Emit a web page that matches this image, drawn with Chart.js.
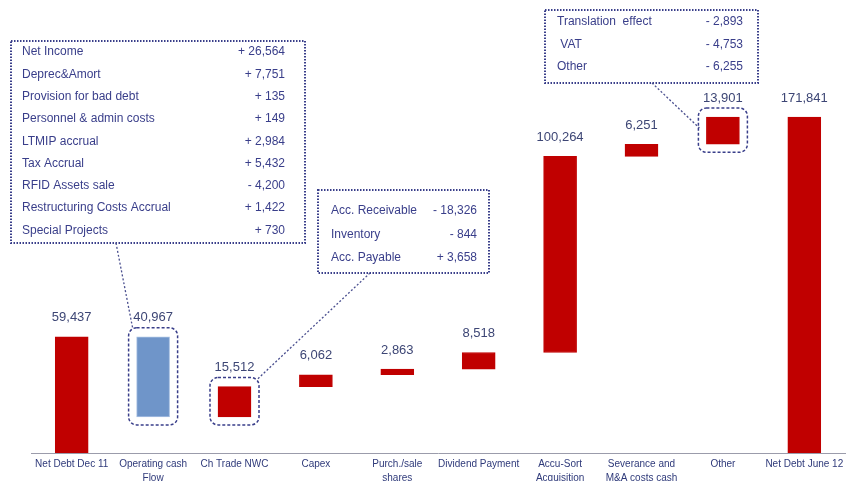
<!DOCTYPE html>
<html lang="en">
  <head>
    <meta charset="UTF-8" />
    <title>Net debt bridge Dec 11 - June 12</title>
    <script src="https://cdn.jsdelivr.net/npm/chart.js@4/dist/chart.umd.min.js"></script>
    <style>
      body { margin: 0; background: #fff; overflow: hidden; }
      #wrap { width: 855px; height: 481px; position: relative; }
    </style>
  </head>
  <body>
    <div id="wrap"><canvas id="bridge"></canvas></div>
    <script>
      // categories on the x axis
      const categories = [
        "Net Debt Dec 11",
        ["Operating cash", "Flow"],
        "Ch Trade NWC",
        "Capex",
        ["Purch./sale", "shares"],
        "Dividend Payment",
        ["Accu-Sort", "Acquisition"],
        ["Severance and", "M&A costs cash"],
        "Other",
        "Net Debt June 12",
      ];

      // opening / closing totals and the movements in between
      const openingDebt = 59437;
      const movements = [-40967, 15512, 6062, 2863, 8518, 100264, 6251, 13901];
      const closingDebt = 171841;

      // breakdown tables shown in the callouts
      const cashFlowItems = [
        "Net Income", "Deprec&Amort", "Provision for bad debt",
        "Personnel & admin costs", "LTMIP accrual", "Tax Accrual",
        "RFID Assets sale", "Restructuring Costs Accrual", "Special Projects",
      ];
      const cashFlowValues = [
        "+ 26,564", "+ 7,751", "+ 135", "+ 149", "+ 2,984",
        "+ 5,432", "- 4,200", "+ 1,422", "+ 730",
      ];
      const nwcItems = ["Acc. Receivable", "Inventory", "Acc. Payable"];
      const nwcValues = ["- 18,326", "- 844", "+ 3,658"];
      const otherItems = ["Translation  effect", " VAT", "Other"];
      const otherValues = ["- 2,893", "- 4,753", "- 6,255"];

      const RED = "#c00000";
      const BLUE = "#6f95c9";
      const NAVY = "#393e8a";
      const FONT = "'Liberation Sans', Arial, sans-serif";

      // build the floating bars
      const ranges = [[0, openingDebt]];
      const shown = [openingDebt];
      let level = openingDebt;
      movements.forEach((d) => {
        const next = level + d;
        ranges.push([Math.min(level, next), Math.max(level, next)]);
        shown.push(Math.abs(d));
        level = next;
      });
      ranges.push([0, closingDebt]);
      shown.push(closingDebt);

      const colors = movements.map((d) => (d < 0 ? BLUE : RED));
      colors.unshift(RED);
      colors.push(RED);
      const borders = colors.map((c) => (c === BLUE ? "#a9c1e3" : RED));

      function dottedBox(ctx, x1, y1, x2, y2) {
        ctx.save();
        ctx.strokeStyle = NAVY;
        ctx.lineWidth = 2;
        ctx.setLineDash([1.5, 1.5]);
        ctx.strokeRect(x1, y1, x2 - x1, y2 - y1);
        ctx.restore();
      }

      function rowsText(ctx, items, values, xl, xr, y0, step) {
        ctx.save();
        ctx.fillStyle = NAVY;
        ctx.font = "12px " + FONT;
        ctx.textBaseline = "middle";
        items.forEach((t, i) => {
          ctx.textAlign = "left";
          ctx.fillText(t, xl, y0 + i * step);
          ctx.textAlign = "right";
          ctx.fillText(values[i], xr, y0 + i * step);
        });
        ctx.restore();
      }

      function connector(ctx, x1, y1, x2, y2) {
        ctx.save();
        ctx.strokeStyle = "#4a4f8f";
        ctx.lineWidth = 1.3;
        ctx.setLineDash([2, 2]);
        ctx.beginPath();
        ctx.moveTo(x1, y1);
        ctx.lineTo(x2, y2);
        ctx.stroke();
        ctx.restore();
      }

      // dashed rounded frame round one bar, returns its corners
      function frameBar(ctx, bar) {
        const top = Math.min(bar.y, bar.base);
        const bottom = Math.max(bar.y, bar.base);
        const r = {
          x1: bar.x - bar.width / 2 - 8,
          x2: bar.x + bar.width / 2 + 8,
          y1: top - 9,
          y2: bottom + 8,
        };
        ctx.save();
        ctx.strokeStyle = NAVY;
        ctx.lineWidth = 1.5;
        ctx.setLineDash([3, 2]);
        ctx.beginPath();
        ctx.roundRect(r.x1, r.y1, r.x2 - r.x1, r.y2 - r.y1, 8);
        ctx.stroke();
        ctx.restore();
        return r;
      }

      const annotations = {
        id: "annotations",
        afterDatasetsDraw(chart) {
          const ctx = chart.ctx;
          const bars = chart.getDatasetMeta(0).data;

          // value labels above the bars
          ctx.save();
          ctx.fillStyle = "#3d4675";
          ctx.font = "13px " + FONT;
          ctx.textAlign = "center";
          ctx.textBaseline = "middle";
          bars.forEach((bar, i) => {
            const top = Math.min(bar.y, bar.base);
            ctx.fillText(shown[i].toLocaleString("en-US"), bar.x, top - 19);
          });
          ctx.restore();

          // operating cash flow breakdown
          const f1 = frameBar(ctx, bars[1]);
          dottedBox(ctx, 11, 41, 305, 243);
          rowsText(ctx, cashFlowItems, cashFlowValues, 22, 285, 52, 22.3);
          connector(ctx, 116, 243, f1.x1 + 4, f1.y1);

          // trade NWC breakdown
          const f2 = frameBar(ctx, bars[2]);
          dottedBox(ctx, 318, 190, 489, 273);
          rowsText(ctx, nwcItems, nwcValues, 331, 477, 211, 23.5);
          connector(ctx, 370, 273, f2.x2 - 2, f2.y1 + 2);

          // other breakdown
          const f3 = frameBar(ctx, bars[8]);
          dottedBox(ctx, 545, 10, 758, 83);
          rowsText(ctx, otherItems, otherValues, 557, 743, 22, 22.5);
          connector(ctx, 652, 83, f3.x1 + 1, f3.y1 + 20);
        },
      };

      new Chart(document.getElementById("bridge"), {
        type: "bar",
        data: {
          labels: categories,
          datasets: [
            {
              data: ranges,
              backgroundColor: colors,
              borderColor: borders,
              borderWidth: 1,
              borderSkipped: false,
              barThickness: 33,
            },
          ],
        },
        options: {
          responsive: true,
          maintainAspectRatio: false,
          animation: false,
          layout: { padding: { left: 31, right: 10, top: 62, bottom: -8 } },
          plugins: { legend: { display: false }, tooltip: { enabled: false } },
          scales: {
            x: {
              grid: { display: false, drawTicks: false },
              border: { display: true, color: "#9b9cab", width: 1 },
              ticks: {
                color: "#2f3a7a",
                padding: 4,
                maxRotation: 0,
                autoSkip: false,
                font: { family: FONT, size: 10, lineHeight: 1.4 },
              },
            },
            y: {
              display: false,
              min: 0,
              max: 200000,
            },
          },
        },
        plugins: [annotations],
      });
    </script>
  </body>
</html>
